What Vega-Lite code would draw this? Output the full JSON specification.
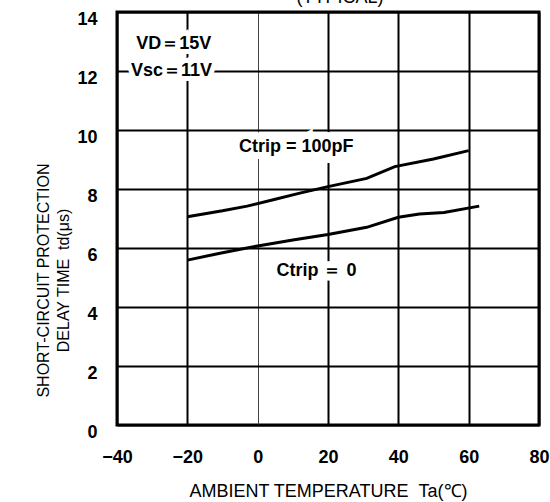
{
  "$schema": "https://vega.github.io/schema/vega-lite/v6.json",
  "width": 422,
  "height": 413,
  "autosize": {"type": "none"},
  "padding": {"left": 117, "top": 12, "right": 11, "bottom": 77},
  "background": "white",
  "title": {"text": "(TYPICAL)", "fontSize": 18, "fontWeight": "normal", "font": "Liberation Sans", "color": "black", "offset": 3, "dx": 12},
  "config": {
    "view": {"stroke": "black", "strokeWidth": 3},
    "axis": {"domain": false, "ticks": false, "tickSize": 0, "grid": true, "gridColor": "black", "labelColor": "black", "titleColor": "black", "labelFont": "Liberation Sans", "titleFont": "Liberation Sans", "labelFontWeight": "bold", "labelFontSize": 18, "titleFontSize": 16, "titleFontWeight": "normal", "labelFlush": false}
  },
  "datasets": {
    "curves": [
      {"series": "100pF", "Ta": -20, "td": 7.06},
      {"series": "100pF", "Ta": -10, "td": 7.26},
      {"series": "100pF", "Ta": -3, "td": 7.42},
      {"series": "100pF", "Ta": 5, "td": 7.65},
      {"series": "100pF", "Ta": 12, "td": 7.86},
      {"series": "100pF", "Ta": 20, "td": 8.08},
      {"series": "100pF", "Ta": 31, "td": 8.36},
      {"series": "100pF", "Ta": 39, "td": 8.76},
      {"series": "100pF", "Ta": 50, "td": 9.02},
      {"series": "100pF", "Ta": 60, "td": 9.3},
      {"series": "0", "Ta": -20, "td": 5.59},
      {"series": "0", "Ta": -10, "td": 5.84},
      {"series": "0", "Ta": 0, "td": 6.07},
      {"series": "0", "Ta": 10, "td": 6.27},
      {"series": "0", "Ta": 20, "td": 6.46},
      {"series": "0", "Ta": 31, "td": 6.7},
      {"series": "0", "Ta": 40, "td": 7.04},
      {"series": "0", "Ta": 46, "td": 7.15},
      {"series": "0", "Ta": 53, "td": 7.2},
      {"series": "0", "Ta": 63, "td": 7.42}
    ],
    "notes": [
      {"label": "VD＝15V", "Ta": -34.5, "td": 12.9, "kind": "left"},
      {"label": "Vsc＝11V", "Ta": -36, "td": 12.0, "kind": "left"},
      {"label": "Ctrip = 100pF", "Ta": 11, "td": 9.43, "kind": "center"},
      {"label": "Ctrip ＝ 0", "Ta": 16.7, "td": 5.23, "kind": "center"}
    ]
  },
  "layer": [
    {
      "data": {"name": "notes"},
      "transform": [{"filter": "datum.kind === 'left'"}],
      "mark": {"type": "text", "align": "left", "baseline": "middle", "font": "Liberation Sans", "fontWeight": "bold", "fontSize": 18, "stroke": "white", "strokeWidth": 10, "fill": "white"},
      "encoding": {
        "x": {"field": "Ta", "type": "quantitative", "scale": {"domain": [-40, 80], "nice": false}, "axis": {"values": [-40, -20, 0, 20, 40, 60, 80], "title": "AMBIENT TEMPERATURE\u00a0\u00a0Ta(℃)", "titleFontSize": 18, "labelPadding": 23, "titlePadding": 16, "gridWidth": {"condition": {"test": "datum.value === 0", "value": 1}, "value": 2}, "gridColor": {"condition": {"test": "datum.value === 0", "value": "#444444"}, "value": "black"}}},
        "y": {"field": "td", "type": "quantitative", "scale": {"domain": [0, 14], "nice": false}, "axis": {"values": [0, 2, 4, 6, 8, 10, 12, 14], "title": ["SHORT-CIRCUIT PROTECTION", "DELAY TIME\u00a0\u00a0td(μs)"], "labelPadding": 20, "labelOffset": 7, "gridWidth": 2, "titleX": -66, "titleY": 268, "titleLineHeight": 20}},
        "text": {"field": "label"}
      }
    },
    {
      "data": {"name": "notes"},
      "transform": [{"filter": "datum.kind === 'center'"}],
      "mark": {"type": "text", "align": "center", "baseline": "middle", "font": "Liberation Sans", "fontWeight": "bold", "fontSize": 18, "stroke": "white", "strokeWidth": 14, "fill": "white"},
      "encoding": {
        "x": {"field": "Ta", "type": "quantitative"},
        "y": {"field": "td", "type": "quantitative"},
        "text": {"field": "label"}
      }
    },
    {
      "data": {"name": "curves"},
      "mark": {"type": "line", "color": "black", "strokeWidth": 3},
      "encoding": {
        "x": {"field": "Ta", "type": "quantitative"},
        "y": {"field": "td", "type": "quantitative"},
        "detail": {"field": "series"}
      }
    },
    {
      "data": {"name": "notes"},
      "transform": [{"filter": "datum.kind === 'left'"}],
      "mark": {"type": "text", "align": "left", "baseline": "middle", "font": "Liberation Sans", "fontWeight": "bold", "fontSize": 18, "color": "black"},
      "encoding": {
        "x": {"field": "Ta", "type": "quantitative"},
        "y": {"field": "td", "type": "quantitative"},
        "text": {"field": "label"}
      }
    },
    {
      "data": {"name": "notes"},
      "transform": [{"filter": "datum.kind === 'center'"}],
      "mark": {"type": "text", "align": "center", "baseline": "middle", "font": "Liberation Sans", "fontWeight": "bold", "fontSize": 18, "color": "black"},
      "encoding": {
        "x": {"field": "Ta", "type": "quantitative"},
        "y": {"field": "td", "type": "quantitative"},
        "text": {"field": "label"}
      }
    }
  ]
}
